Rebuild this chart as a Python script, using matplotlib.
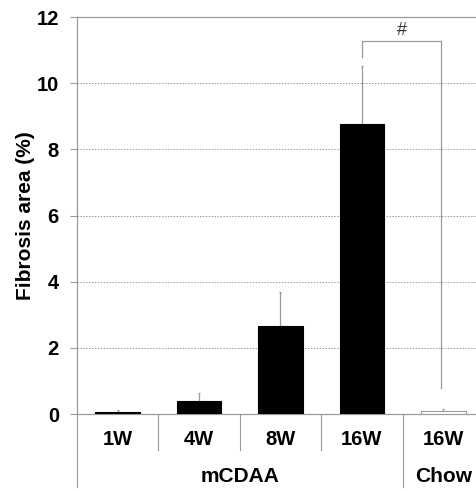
import matplotlib.pyplot as plt
import numpy as np

plt.rcParams['font.family'] = ['Liberation Sans', 'DejaVu Sans']

# data
weeks = ['1W', '4W', '8W', '16W', '16W']
groups = ['mCDAA', 'mCDAA', 'mCDAA', 'mCDAA', 'Chow']
fibrosis = [0.07, 0.39, 2.66, 8.76, 0.08]
sd = [0.05, 0.23, 1.03, 1.76, 0.06]
bar_colors = ['black', 'black', 'black', 'black', 'white']

gray = '#9a9a9a'
x = np.arange(len(weeks))

fig = plt.figure(figsize=(4.77, 4.91), dpi=100)
ax = fig.add_axes([77/477, 77/491, 407/477, 397/491])

ax.bar(x, fibrosis, width=0.55, color=bar_colors, edgecolor=['black']*4 + [gray], linewidth=0.8, zorder=3)
ax.errorbar(x, fibrosis, yerr=[np.zeros(len(sd)), sd], fmt='none', ecolor=gray,
            elinewidth=0.9, capsize=1, capthick=0.9, zorder=2)

ax.set_xlim(-0.5, 4.5)
ax.set_ylim(0, 12)
ax.set_yticks(np.arange(0, 13, 2))
ax.set_yticklabels([str(v) for v in range(0, 13, 2)], fontsize=14.5, fontweight='bold')
ax.tick_params(axis='y', length=5, color=gray, pad=8)
ax.tick_params(axis='x', length=0)
ax.set_xticks([])
for v in range(2, 12, 2):
    ax.axhline(v, color=gray, linestyle=(0, (1.5, 1.5)), linewidth=0.7, zorder=1)

for s in ['left', 'top', 'bottom']:
    ax.spines[s].set_color(gray)
    ax.spines[s].set_linewidth(0.9)
ax.spines['right'].set_visible(False)

ax.set_ylabel('Fibrosis area (%)', fontsize=15, fontweight='bold')
ax.yaxis.set_label_coords(-0.103, 0.5)

# category labels and separators below the axis
for i, w in enumerate(weeks):
    ax.text(i, -0.78, w, ha='center', va='center', fontsize=14.5, fontweight='bold', clip_on=False)
for b in [0.5, 1.5, 2.5]:
    ax.plot([b, b], [0, -1.1], color=gray, linewidth=0.8, clip_on=False)
for b in [-0.5, 3.5]:
    ax.plot([b, b], [0, -2.2], color=gray, linewidth=0.8, clip_on=False)
ax.text(1.5, -1.9, 'mCDAA', ha='center', va='center', fontsize=15, fontweight='bold', clip_on=False)
ax.text(4, -1.9, 'Chow', ha='center', va='center', fontsize=15, fontweight='bold', clip_on=False)

# significance bracket
yb = 11.28
ax.plot([3, 3, 3.97, 3.97], [10.8, yb, yb, 0.79], color=gray, linewidth=0.9, zorder=4)
ax.text(3.49, yb + 0.05, '#', ha='center', va='bottom', fontsize=13, color='#333333')

fig.savefig('out.png', dpi=100)
